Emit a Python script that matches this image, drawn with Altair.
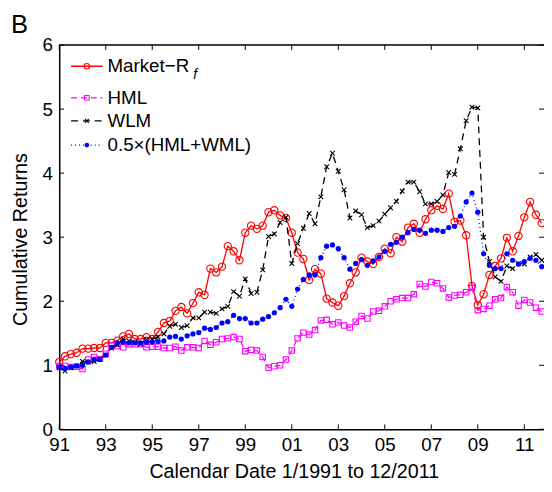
import altair as alt
import pandas as pd

# ---------------- data (quarterly, 1991Q1 .. 2011Q4) ----------------
start_year = 1991
market_rf = [1.05, 1.14, 1.175, 1.195, 1.26, 1.26, 1.27, 1.27, 1.35, 1.35,
             1.385, 1.45, 1.49, 1.41, 1.41, 1.44, 1.41, 1.52, 1.66, 1.69,
             1.85, 1.91, 1.81, 1.97, 2.14, 2.10, 2.51, 2.45, 2.54, 2.86,
             2.78, 2.64, 3.07, 3.18, 3.13, 3.18, 3.39, 3.42, 3.34, 3.30,
             3.07, 2.76, 2.66, 2.33, 2.50, 2.43, 2.04, 1.98, 1.93, 2.08,
             2.28, 2.45, 2.68, 2.62, 2.58, 2.69, 2.82, 2.75, 3.00, 2.93,
             3.15, 3.21, 3.07, 3.28, 3.42, 3.49, 3.44, 3.68, 3.24, 3.26,
             3.03, 2.24, 1.94, 2.11, 2.41, 2.55, 2.67, 2.99, 2.78, 3.02,
             3.31, 3.55, 3.35, 3.22]
hml = [0.99, 0.99, 0.975, 0.975, 0.94, 1.09, 1.13, 1.10, 1.18, 1.31,
       1.30, 1.28, 1.33, 1.33, 1.33, 1.28, 1.29, 1.29, 1.27, 1.27,
       1.29, 1.23, 1.28, 1.28, 1.27, 1.38, 1.32, 1.36, 1.41, 1.42,
       1.44, 1.41, 1.22, 1.24, 1.23, 1.13, 0.96, 0.985, 1.00, 1.09,
       1.23, 1.42, 1.51, 1.48, 1.55, 1.70, 1.71, 1.64, 1.67, 1.62,
       1.59, 1.68, 1.77, 1.73, 1.84, 1.85, 1.92, 2.00, 2.03, 2.05,
       2.05, 2.11, 2.27, 2.23, 2.30, 2.28, 2.20, 2.06, 2.09, 2.10,
       2.14, 2.21, 1.86, 1.88, 1.93, 2.03, 2.05, 2.22, 2.14, 1.93,
       2.02, 1.98, 1.90, 1.84]
wlm = [0.96, 0.91, 0.96, 0.99, 1.06, 1.05, 1.06, 1.10, 1.16, 1.27,
       1.32, 1.41, 1.38, 1.36, 1.33, 1.40, 1.41, 1.44, 1.49, 1.61,
       1.64, 1.59, 1.62, 1.74, 1.74, 1.83, 1.83, 1.81, 1.88, 1.92,
       2.15, 2.08, 2.35, 2.12, 2.14, 2.49, 3.01, 3.05, 3.23, 3.31,
       2.59, 2.90, 3.14, 3.37, 3.21, 3.63, 4.10, 4.31, 4.03, 3.74,
       3.30, 3.41, 3.35, 3.15, 3.18, 3.25, 3.36, 3.46, 3.56, 3.72,
       3.86, 3.86, 3.71, 3.52, 3.52, 3.56, 3.66, 4.01, 3.98, 4.38,
       4.82, 5.03, 5.02, 3.00, 2.62, 2.38, 2.31, 2.55, 2.51, 2.59,
       2.58, 2.69, 2.73, 2.64]
half_hml_wml = [0.975, 0.95, 0.975, 0.99, 1.00, 1.05, 1.09, 1.09, 1.16, 1.28,
                1.35, 1.36, 1.35, 1.35, 1.35, 1.36, 1.36, 1.37, 1.38, 1.44,
                1.45, 1.41, 1.46, 1.49, 1.51, 1.58, 1.56, 1.59, 1.66, 1.68,
                1.78, 1.73, 1.73, 1.66, 1.66, 1.72, 1.76, 1.82, 1.90, 2.03,
                1.92, 2.19, 2.34, 2.41, 2.41, 2.68, 2.86, 2.88, 2.82, 2.68,
                2.50, 2.59, 2.65, 2.56, 2.63, 2.69, 2.78, 2.89, 2.92, 3.00,
                3.07, 3.12, 3.11, 3.06, 3.11, 3.11, 3.09, 3.15, 3.17, 3.33,
                3.55, 3.69, 3.39, 2.74, 2.56, 2.51, 2.51, 2.74, 2.64, 2.58,
                2.62, 2.67, 2.64, 2.54]
series_names = ["Market\u2212R", "HML", "WLM", "0.5\u00d7(HML+WML)"]
x_tick_years = [1991, 1993, 1995, 1997, 1999, 2001, 2003, 2005, 2007, 2009, 2011]
y_ticks = [0, 1, 2, 3, 4, 5, 6]

dates = [start_year + k / 4 for k in range(len(market_rf))]

# ---------------- layout ----------------
W, H = 492, 390
FONT = "Liberation Sans"
TICK = 5

xscale = alt.Scale(domain=[1991, 1991 + W / 23.6], nice=False, zero=False)
yscale = alt.Scale(domain=[0, 6], nice=False)

xaxis = alt.Axis(values=x_tick_years,
                 labelExpr="substring(toString(datum.value), 2, 4)",
                 ticks=False, grid=False, domainColor="black", domainWidth=1.5,
                 labelFontSize=19, labelColor="black", labelPadding=7,
                 labelFlush=False, labelOverlap=False,
                 title="Calendar Date 1/1991 to 12/2011", titleFontSize=20,
                 titleFontWeight="normal", titleColor="black",
                 titleX=238, titleY=49, titleBaseline="alphabetic",
                 titleAlign="center")
yaxis = alt.Axis(values=y_ticks, format="d", ticks=False, grid=False,
                 domainColor="black", domainWidth=1.5,
                 labelFontSize=19, labelColor="black", labelPadding=7,
                 labelFlush=False, labelOverlap=False,
                 title="Cumulative Returns", titleFontSize=20,
                 titleFontWeight="normal", titleColor="black",
                 titleX=-39, titleY=197, titleAngle=270,
                 titleAlign="center", titleBaseline="middle")

X = lambda f: alt.X(f, type="quantitative", scale=xscale, axis=xaxis)
Y = lambda f: alt.Y(f, type="quantitative", scale=yscale, axis=yaxis)

XSHAPE = "M-1,-1L1,1M-1,1L1,-1"

styles = [
    dict(color="#ff0000", dash=[1, 0], shape="circle", size=55, filled=False, lsize=30),
    dict(color="#ff00ff", dash=[6, 4], shape="square", size=30, filled=False, lsize=22),
    dict(color="#000000", dash=[7, 5], shape=XSHAPE, size=22, filled=False, lsize=16),
    dict(color="#0000ff", dash=[1, 3], shape="circle", size=28, filled=True, lsize=22),
]
all_series = [market_rf, hml, wlm, half_hml_wml]

layers = []
for vals, st in zip(all_series, styles):
    df = pd.DataFrame({"t": dates, "v": vals})
    base = alt.Chart(df).encode(x=X("t"), y=Y("v"))
    layers.append(base.mark_line(color=st["color"], strokeDash=st["dash"],
                                 strokeWidth=1.3))
    layers.append(base.mark_point(shape=st["shape"], size=st["size"],
                                  filled=st["filled"], color=st["color"],
                                  strokeWidth=1.1, opacity=1))

# inward ticks (MATLAB box style)
xt = pd.DataFrame({"t": x_tick_years})
yt = pd.DataFrame({"v": y_ticks})
layers.append(alt.Chart(xt).mark_rule(color="black", strokeWidth=1).encode(
    x=X("t"), y=alt.value(H), y2=alt.value(H - TICK)))
layers.append(alt.Chart(xt).mark_rule(color="black", strokeWidth=1).encode(
    x=X("t"), y=alt.value(0), y2=alt.value(TICK)))
layers.append(alt.Chart(yt).mark_rule(color="black", strokeWidth=1).encode(
    y=Y("v"), x=alt.value(0), x2=alt.value(TICK)))
layers.append(alt.Chart(yt).mark_rule(color="black", strokeWidth=1).encode(
    y=Y("v"), x=alt.value(W - TICK), x2=alt.value(W)))
# top frame line
one = pd.DataFrame({"a": [0]})
layers.append(alt.Chart(one).mark_rule(color="black", strokeWidth=1.5).encode(
    x=alt.value(0), x2=alt.value(W), y=alt.value(0)))

# legend (manual, no box)
leg_rows = [21.5, 53.5, 77, 101.5]
for name, st, ry in zip(series_names, styles, leg_rows):
    layers.append(alt.Chart(one).mark_rule(color=st["color"], strokeDash=st["dash"],
                                           strokeWidth=1.3).encode(
        x=alt.value(12), x2=alt.value(44), y=alt.value(ry)))
    layers.append(alt.Chart(one).mark_point(shape=st["shape"], size=st["lsize"],
                                            filled=st["filled"], color=st["color"],
                                            strokeWidth=1.1, opacity=1).encode(
        x=alt.value(28), y=alt.value(ry)))
    layers.append(alt.Chart(one).mark_text(align="left", baseline="middle",
                                           fontSize=19, font=FONT, color="black").encode(
        x=alt.value(49), y=alt.value(ry), text=alt.value(name)))
# subscript f
layers.append(alt.Chart(one).mark_text(align="left", baseline="middle", fontSize=14,
                                       font=FONT, fontStyle="italic", color="black").encode(
    x=alt.value(136), y=alt.value(30), text=alt.value("f")))

# panel letter
layers.append(alt.Chart(one).mark_text(align="left", baseline="alphabetic", fontSize=26,
                                       font=FONT, color="black").encode(
    x=alt.value(-49), y=alt.value(-12), text=alt.value("B")))

chart = alt.layer(*layers).properties(
    width=W, height=H,
    autosize=alt.AutoSizeParams(type="none"),
    padding={"left": 52, "top": 34, "right": 0, "bottom": 60},
).configure_view(stroke=None).configure_axis(
    labelFont=FONT, titleFont=FONT
).configure_text(font=FONT)

chart.save("out.html", embed_options={"renderer": "svg", "actions": False})
